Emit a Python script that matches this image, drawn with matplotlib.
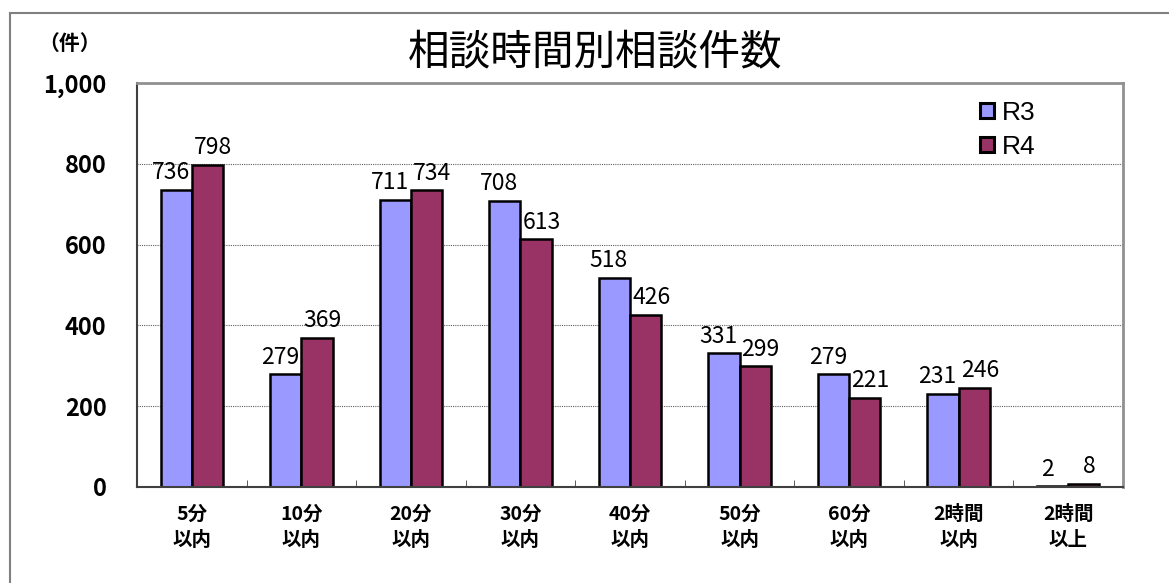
import numpy as np
import matplotlib
matplotlib.use('Agg')
from matplotlib import pyplot as plt
from matplotlib.patches import Rectangle

plt.rcParams['font.family'] = ['Noto Sans CJK JP', 'DejaVu Sans']

categories = ['5分\n以内', '10分\n以内', '20分\n以内', '30分\n以内', '40分\n以内',
              '50分\n以内', '60分\n以内', '2時間\n以内', '2時間\n以上']
r3 = [736, 279, 711, 708, 518, 331, 279, 231, 2]
r4 = [798, 369, 734, 613, 426, 299, 221, 246, 8]
y_ticks = [0, 200, 400, 600, 800, 1000]
y_tick_labels = ['0', '200', '400', '600', '800', '1,000']

fig = plt.figure(figsize=(11.69, 5.83), dpi=100)
ax = fig.add_axes([0.1172, 0.1647, 0.8434, 0.6929])

# outer frame of the chart
fig.patches.append(Rectangle((10 / 1169, -0.2), 1.3, 0.2 + 1 - 13 / 583,
                             transform=fig.transFigure, fill=False,
                             edgecolor='#808080', linewidth=1.5))

x = np.arange(len(categories))
w = 0.285
b1 = ax.bar(x - w / 2, r3, w, color='#9999FF', edgecolor='black', linewidth=1.8, label='R3')
b2 = ax.bar(x + w / 2, r4, w, color='#993366', edgecolor='black', linewidth=1.8, label='R4')

# labels pushed a little outward so pairs don't collide
for bars, vals, dx in ((b1, r3, -4), (b2, r4, 4)):
    for rect, v in zip(bars, vals):
        ax.annotate(str(v), (rect.get_x() + rect.get_width() / 2, v),
                    xytext=(dx, 4), textcoords='offset points',
                    ha='center', va='bottom', fontsize=16.5)

ax.set_xlim(-0.5, len(categories) - 0.5)
ax.set_ylim(0, 1000)
ax.set_yticks(y_ticks)
ax.set_yticklabels(y_tick_labels, fontsize=17, fontweight='bold')
ax.tick_params(axis='y', length=0, pad=22)

ax.set_xticks(x)
ax.set_xticklabels(categories, fontsize=14, fontweight='bold', linespacing=1.45)
ax.tick_params(axis='x', length=0, pad=13)
ax.set_xticks(np.arange(0.5, len(categories) - 1, 1), minor=True)
ax.tick_params(axis='x', which='minor', direction='in', length=5, color='#404040')

for yv in y_ticks[1:-1]:
    ax.axhline(yv, color='#606060', linestyle=(0, (1, 1)), linewidth=0.8, zorder=0)

for side in ['left', 'bottom']:
    ax.spines[side].set_color('#404040')
    ax.spines[side].set_linewidth(1.5)
for side in ['top', 'right']:
    ax.spines[side].set_color('#909090')
    ax.spines[side].set_linewidth(2)

leg = ax.legend(loc='upper right', bbox_to_anchor=(0.935, 1.015), frameon=False,
                prop={'family': 'Liberation Sans', 'size': 19},
                handlelength=0.5, handleheight=0.5, handletextpad=0.3, labelspacing=0.4)
for h in leg.legend_handles:
    h.set_linewidth(2.2)

fig.text(595 / 1169, 1 - 53 / 583, '相談時間別相談件数', ha='center', va='center', fontsize=30)
fig.text(70 / 1169, 1 - 43 / 583, '（件）', ha='center', va='center', fontsize=15, fontweight='bold')

fig.savefig('out.png', dpi=100)
